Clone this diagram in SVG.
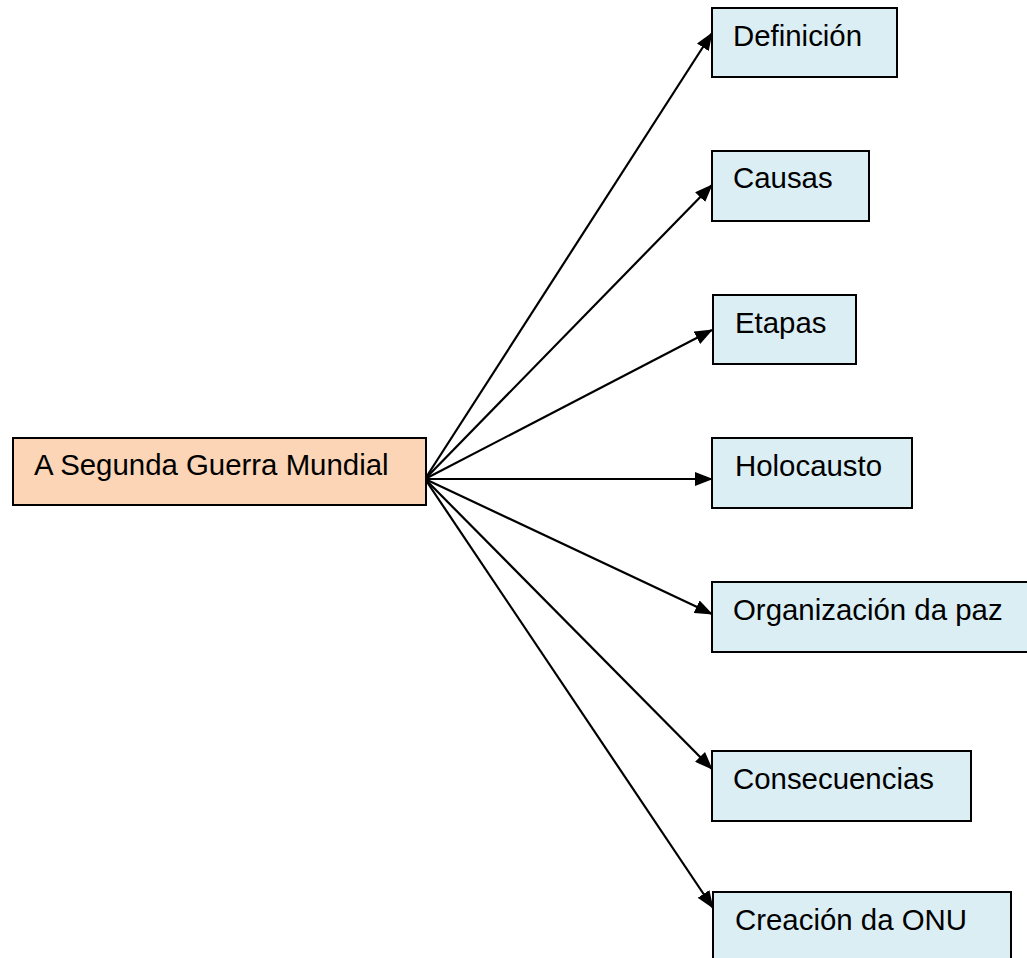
<svg xmlns="http://www.w3.org/2000/svg" width="1027" height="958" viewBox="0 0 1027 958">
<style>
.box{stroke:#000;stroke-width:2}
.main{fill:#FBD5B5}
.sub{fill:#DBEEF4}
text{font-family:"Liberation Sans",Arial,sans-serif;font-size:29.4px;fill:#000}
.edge{stroke:#000;stroke-width:2.2;fill:none;marker-end:url(#arr)}
</style>
<defs>
<marker id="arr" markerUnits="userSpaceOnUse" markerWidth="18" markerHeight="14" refX="17" refY="7" orient="auto">
<path d="M0,0 L18,7 L0,14 z" fill="#000"/>
</marker>
</defs>
<rect width="1027" height="958" fill="#fff"/>
<g id="connectors">
<line class="edge" x1="425" y1="479" x2="712" y2="33"/>
<line class="edge" x1="425" y1="479" x2="712" y2="185"/>
<line class="edge" x1="425" y1="479" x2="712" y2="330"/>
<line class="edge" x1="425" y1="479" x2="712" y2="479"/>
<line class="edge" x1="425" y1="479" x2="712" y2="614"/>
<line class="edge" x1="425" y1="479" x2="712" y2="769"/>
<line class="edge" x1="425" y1="479" x2="713" y2="908"/>
</g>
<g id="n-main"><rect class="box main" x="13" y="438" width="413" height="67"/><text x="34" y="475">A Segunda Guerra Mundial</text></g>
<g id="n-definicion"><rect class="box sub" x="712" y="8" width="185" height="69"/><text x="733" y="46">Definición</text></g>
<g id="n-causas"><rect class="box sub" x="712" y="151" width="157" height="70"/><text x="733" y="188">Causas</text></g>
<g id="n-etapas"><rect class="box sub" x="713" y="295" width="143" height="69"/><text x="735" y="333">Etapas</text></g>
<g id="n-holocausto"><rect class="box sub" x="712" y="438" width="200" height="70"/><text x="735" y="476">Holocausto</text></g>
<g id="n-organizacion"><rect class="box sub" x="712" y="582" width="320" height="70"/><text x="733" y="620">Organización da paz</text></g>
<g id="n-consecuencias"><rect class="box sub" x="712" y="751" width="259" height="70"/><text x="733" y="789">Consecuencias</text></g>
<g id="n-creacion"><rect class="box sub" x="713" y="892" width="298" height="80"/><text x="735" y="930">Creación da ONU</text></g>
</svg>
